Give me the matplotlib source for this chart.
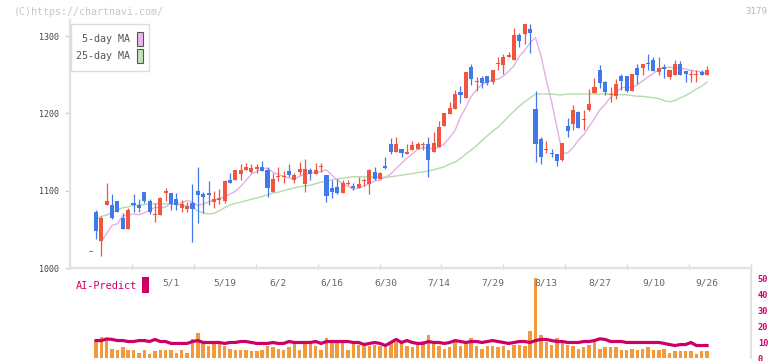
import numpy as np
import pandas as pd
import matplotlib
matplotlib.use("Agg")
import matplotlib.pyplot as plt
from matplotlib.patches import Rectangle

# daily candles (index 0 has no volume bar)
opens = [1021, 1072, 1035, 1082, 1081, 1087, 1065, 1051, 1084, 1081,
         1098, 1087, 1068, 1068, 1097, 1097, 1089, 1078, 1076, 1084,
         1100, 1096, 1096, 1085, 1088, 1087, 1114, 1114, 1121, 1127,
         1124, 1128, 1131, 1127, 1098, 1118, 1118, 1125, 1114, 1124,
         1109, 1127, 1121, 1130, 1120, 1103, 1105, 1097, 1109, 1106,
         1103, 1113, 1109, 1124, 1115, 1132, 1160, 1150, 1154, 1148,
         1152, 1154, 1159, 1160, 1150, 1156, 1184, 1199, 1206, 1228,
         1220, 1260, 1241, 1246, 1248, 1240, 1264, 1262, 1273, 1269,
         1301, 1303, 1309, 1206, 1167, 1153, 1149, 1147, 1140, 1184,
         1186, 1202, 1191, 1204, 1226, 1256, 1240, 1224, 1222, 1248,
         1248, 1229, 1259, 1259, 1265, 1269, 1253, 1260, 1247, 1250,
         1264, 1255, 1250, 1250, 1253, 1250]
highs = [1021, 1075, 1067, 1110, 1096, 1087, 1071, 1078, 1096, 1089,
         1098, 1089, 1084, 1092, 1104, 1097, 1097, 1088, 1085, 1109,
         1130, 1098, 1113, 1100, 1102, 1114, 1123, 1127, 1135, 1136,
         1135, 1134, 1138, 1131, 1123, 1131, 1126, 1135, 1123, 1137,
         1141, 1129, 1136, 1136, 1120, 1114, 1115, 1114, 1114, 1110,
         1118, 1116, 1128, 1131, 1124, 1144, 1168, 1169, 1154, 1160,
         1164, 1163, 1163, 1169, 1176, 1190, 1200, 1215, 1230, 1235,
         1253, 1264, 1247, 1248, 1248, 1256, 1273, 1277, 1279, 1310,
         1304, 1315, 1315, 1229, 1169, 1164, 1154, 1147, 1162, 1194,
         1211, 1203, 1204, 1231, 1246, 1262, 1242, 1234, 1244, 1251,
         1248, 1251, 1264, 1264, 1277, 1273, 1273, 1264, 1256, 1269,
         1268, 1255, 1256, 1256, 1256, 1261]
lows = [1021, 1038, 1016, 1082, 1063, 1073, 1050, 1051, 1073, 1073,
        1084, 1070, 1060, 1068, 1086, 1075, 1075, 1072, 1072, 1033,
        1058, 1071, 1081, 1078, 1083, 1084, 1110, 1114, 1114, 1127,
        1123, 1123, 1126, 1092, 1098, 1112, 1110, 1118, 1110, 1120,
        1098, 1114, 1121, 1124, 1085, 1090, 1096, 1097, 1107, 1101,
        1103, 1106, 1096, 1114, 1115, 1128, 1147, 1150, 1143, 1148,
        1152, 1154, 1152, 1118, 1150, 1156, 1184, 1199, 1206, 1213,
        1220, 1237, 1229, 1233, 1237, 1238, 1256, 1251, 1273, 1269,
        1286, 1290, 1278, 1137, 1135, 1149, 1143, 1132, 1138, 1169,
        1178, 1181, 1178, 1203, 1226, 1233, 1224, 1215, 1218, 1230,
        1228, 1229, 1238, 1250, 1256, 1255, 1250, 1246, 1244, 1250,
        1250, 1240, 1240, 1240, 1250, 1250]
closes = [1021, 1048, 1065, 1087, 1065, 1073, 1050, 1075, 1081, 1078,
          1086, 1073, 1069, 1090, 1099, 1083, 1081, 1083, 1080, 1076,
          1095, 1092, 1095, 1089, 1090, 1112, 1110, 1127, 1127, 1131,
          1129, 1131, 1126, 1103, 1115, 1119, 1119, 1120, 1120, 1128,
          1128, 1121, 1127, 1131, 1093, 1098, 1097, 1110, 1110, 1103,
          1109, 1114, 1127, 1115, 1123, 1129, 1150, 1160, 1149, 1149,
          1159, 1160, 1160, 1140, 1162, 1182, 1200, 1207, 1225, 1224,
          1253, 1244, 1242, 1239, 1239, 1256, 1265, 1273, 1275, 1301,
          1294, 1315, 1304, 1160, 1143, 1154, 1147, 1138, 1162, 1177,
          1204, 1181, 1192, 1212, 1234, 1239, 1228, 1225, 1238, 1242,
          1229, 1251, 1250, 1264, 1264, 1255, 1259, 1257, 1256, 1264,
          1250, 1251, 1251, 1251, 1250, 1256]

# 25-day MA (its window reaches before the first candle)
ma25 = [np.nan,
        1063, 1067, 1068.5, 1072, 1075, 1078, 1079, 1081, 1081.5, 1082,
        1083, 1083, 1083, 1083, 1083, 1082, 1081.5, 1080, 1078, 1074,
        1071, 1070, 1070.5, 1074, 1078, 1081.5, 1083.5, 1085, 1087, 1089,
        1090.5, 1092.5, 1095, 1097, 1098, 1100, 1102, 1103.5, 1105, 1106,
        1107, 1109, 1111, 1112.5, 1114, 1115, 1116, 1117, 1118, 1118,
        1118, 1118, 1118, 1117.5, 1117.5, 1118, 1119, 1120, 1121, 1122,
        1123.5, 1124, 1125.5, 1127, 1129, 1131, 1134.5, 1137, 1141.5, 1147.5,
        1152.5, 1158, 1165, 1171, 1177, 1182, 1189, 1196.5, 1203, 1209.5,
        1215, 1220, 1225, 1225, 1225, 1225, 1224, 1224, 1225, 1225,
        1225, 1225, 1225, 1225, 1225, 1225, 1225, 1225, 1224, 1224,
        1223, 1222, 1222, 1221, 1220, 1219, 1216.5, 1215, 1216.5, 1220,
        1223, 1227, 1231.5, 1235, 1240.5]

volume = [np.nan,
          10.5, 13.4, 11.1, 5.9, 5.3, 6.6, 5.3, 5.3, 3.4, 4.7,
          2.8, 4.1, 5.3, 5.3, 4.7, 3.4, 5.3, 3.4, 11.6, 15.9,
          10.9, 7.8, 10.9, 9.1, 7.8, 5.9, 4.7, 5.3, 4.7, 4.1,
          4.1, 5.3, 7.8, 6.6, 5.9, 5.3, 6.6, 9.1, 4.7, 9.1,
          9.1, 7.2, 4.7, 12.2, 10.9, 9.7, 9.1, 5.3, 9.1, 8.4,
          7.8, 7.2, 8.4, 7.8, 6.6, 9.1, 10.3, 10.9, 7.8, 6.6,
          8.4, 10.9, 14.1, 10.9, 7.8, 5.9, 6.6, 9.7, 7.2, 10.3,
          12.2, 7.8, 5.9, 7.2, 7.8, 6.6, 7.2, 4.7, 8.4, 8.4,
          7.8, 16.6, 49.7, 14.1, 10.3, 8.4, 12.8, 10.9, 8.4, 7.8,
          5.9, 6.6, 8.4, 9.7, 5.9, 6.6, 6.6, 6.6, 5.3, 5.3,
          5.9, 5.3, 5.9, 6.6, 5.3, 4.7, 5.9, 3.4, 4.1, 4.1,
          4.1, 4.1, 2.8, 4.1, 4.1]

ai_predict = [np.nan,
              10.9, 10.9, 11.9, 11.6, 10.9, 10.9, 10.3, 10.3, 10.9, 10.9,
              10.3, 11.6, 10.3, 10.3, 9.1, 9.1, 9.1, 9.1, 10.3, 10.9,
              9.7, 9.7, 9.7, 9.7, 9.1, 9.7, 9.7, 10.3, 10.3, 9.7,
              9.1, 9.1, 9.1, 9.7, 9.1, 9.1, 10.3, 9.7, 9.7, 9.7,
              9.7, 10.3, 9.1, 10.3, 10.3, 10.3, 10.3, 10.3, 9.7, 9.7,
              8.4, 9.1, 9.7, 9.1, 7.8, 9.7, 11.6, 9.7, 10.9, 9.7,
              9.1, 9.1, 10.3, 9.7, 9.7, 9.1, 9.7, 10.9, 10.3, 9.7,
              10.3, 10.3, 9.7, 10.3, 10.9, 10.3, 9.7, 9.1, 9.7, 10.3,
              10.3, 9.7, 10.9, 11.6, 11.6, 10.9, 10.3, 10.3, 9.7, 9.7,
              9.7, 10.3, 10.3, 10.9, 12.0, 11.6, 10.3, 10.3, 10.3, 9.7,
              9.7, 9.7, 9.7, 9.7, 9.7, 9.7, 9.1, 8.4, 7.8, 8.4,
              8.4, 9.7, 7.8, 7.8, 7.8]

date_idx = [15, 25, 35, 45, 55, 65, 75, 85, 95, 105, 115]
date_labels = ["5/1", "5/19", "6/2", "6/16", "6/30", "7/14",
               "7/29", "8/13", "8/27", "9/10", "9/26"]

UP, DOWN = "#f2553f", "#4279ea"
MA5_C, MA25_C = "#e3b0e6", "#b3dcab"
MAG = "#cc0066"
MONO = "DejaVu Sans Mono"

df = pd.DataFrame({"open": opens, "high": highs, "low": lows, "close": closes})
x = np.arange(len(df))
# chart plots the mean of the preceding five closes
ma5 = df["close"].rolling(5, min_periods=2).mean().shift(1)

W, H = 772, 361
fig = plt.figure(figsize=(W / 100, H / 100), dpi=100)


def px_axes(x0, y0, x1, y1):
    return fig.add_axes([x0 / W, 1 - y1 / H, (x1 - x0) / W, (y1 - y0) / H])


XL = (-3.85, 123.2)

# ---- price panel
ax = px_axes(70, 20, 751, 268)
ax.set_xlim(*XL)
ax.set_ylim(1000, 1320.7)
ax.plot(x, ma25, color=MA25_C, lw=1.0, zorder=1)
ax.plot(x, ma5, color=MA5_C, lw=1.0, zorder=1)

up = df["close"] >= df["open"]
cols = np.where(up, UP, DOWN)
ax.vlines(x, df["low"], df["high"], colors=cols, lw=0.9, zorder=2)
body_lo = np.minimum(df["open"], df["close"])
body_h = np.maximum((df["close"] - df["open"]).abs(), 1.4)
ax.bar(x, body_h, bottom=body_lo, width=0.76, color=cols, linewidth=0, zorder=3)

for s in ("top", "right"):
    ax.spines[s].set_visible(False)
for s in ("left", "bottom"):
    ax.spines[s].set_color("#e2e2e2")
    ax.spines[s].set_linewidth(1.6)
ax.set_yticks([1000, 1100, 1200, 1300])
ax.tick_params(axis="y", length=3.6, width=1, color="#d0d0d0", pad=4,
               labelsize=6, labelcolor="#444444")
for t in ax.get_yticklabels():
    t.set_fontfamily(MONO)
ax.set_xticks(np.linspace(XL[0], XL[1], 12))
ax.tick_params(axis="x", direction="inout", length=6.5, width=1,
               color="#dddddd", labelbottom=False)

# ---- volume panel
av = px_axes(70, 270, 751, 358)
av.set_xlim(*XL)
av.set_ylim(0, 55)
av.bar(x, volume, width=0.64, color="#f39a3f", linewidth=0, zorder=2)
av.plot(x, ai_predict, color=MAG, lw=2.3, zorder=3)
for s in ("top", "left", "bottom"):
    av.spines[s].set_visible(False)
av.spines["right"].set_color("#dddddd")
av.spines["right"].set_linewidth(1.2)
av.set_xticks([])
av.yaxis.tick_right()
av.set_yticks([0, 10, 20, 30, 40, 50])
av.tick_params(axis="y", length=0, pad=5, labelsize=6.2, labelcolor=MAG)
for t in av.get_yticklabels():
    t.set_fontfamily(MONO)
    t.set_fontweight("bold")
for i, lab in zip(date_idx, date_labels):
    av.text(i, 0.852, lab, transform=av.get_xaxis_transform(), ha="center",
            va="center", fontsize=6.8, color="#666666", family=MONO)

# ---- overlay: watermark, legend, AI-Predict tag
ov = fig.add_axes([0, 0, 1, 1], zorder=10)
ov.set_xlim(0, W)
ov.set_ylim(H, 0)
ov.axis("off")
ov.patch.set_alpha(0)
ov.text(14, 12, "(C)https://chartnavi.com/", fontsize=7.2, color="#c8c8c8",
        va="center", family=MONO)
ov.text(767, 12, "3179", fontsize=6.6, color="#b8b8b8", va="center",
        ha="right", family=MONO)

ov.add_patch(Rectangle((70.5, 24), 78, 47, facecolor="white",
                       edgecolor="#dddddd", lw=1))
ov.text(130, 39.5, "5-day MA", fontsize=7.2, color="#555555", ha="right",
        va="center", family=MONO)
ov.text(130, 56, "25-day MA", fontsize=7.2, color="#555555", ha="right",
        va="center", family=MONO)
ov.add_patch(Rectangle((137, 31.5), 5.5, 14.5, facecolor="#ecb6ec",
                       edgecolor="#555555", lw=0.8))
ov.add_patch(Rectangle((137, 48.5), 5.5, 14.5, facecolor="#bfe2b7",
                       edgecolor="#555555", lw=0.8))

ov.text(76, 286, "AI-Predict", fontsize=7.4, color=MAG, va="center",
        family=MONO)
ov.add_patch(Rectangle((142, 277), 6.5, 16, facecolor=MAG, lw=0))

fig.savefig("out.png", dpi=100)
